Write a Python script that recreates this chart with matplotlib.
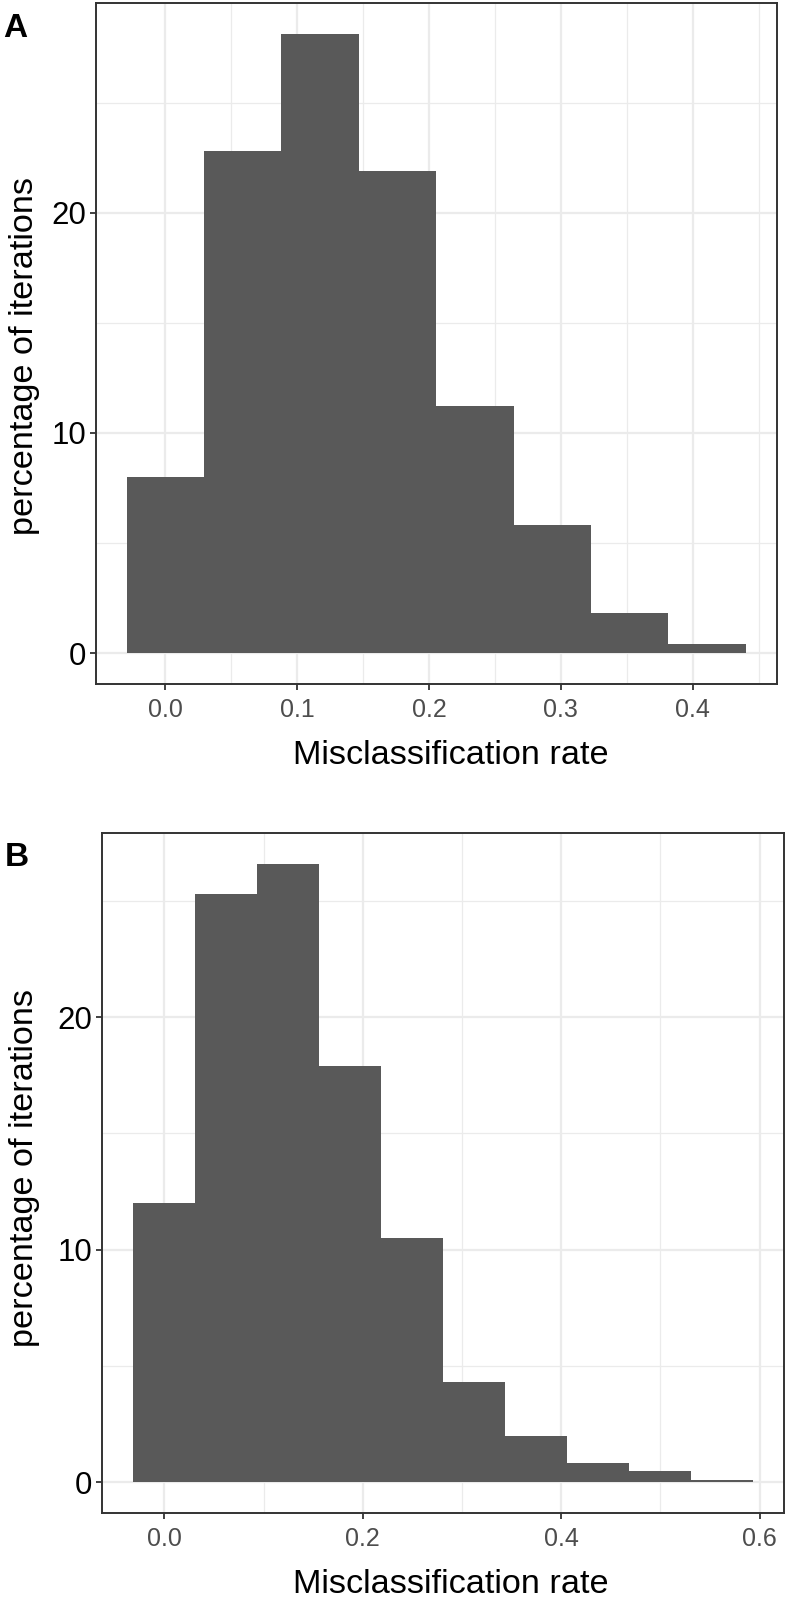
import numpy as np
import matplotlib
matplotlib.use("Agg")
import matplotlib.pyplot as plt

# --------------------------------------------------------------
# Data
# --------------------------------------------------------------
edges_a = [-0.02935, 0.02935, 0.08805, 0.14675, 0.20545, 0.26415, 0.32285, 0.38155, 0.44025]
pct_a = [8.0, 22.8, 28.1, 21.9, 11.2, 5.8, 1.8, 0.39]
xticks_a = [0.0, 0.1, 0.2, 0.3, 0.4]
xminor_a = [0.05, 0.15, 0.25, 0.35, 0.45]

edges_b = [-0.03125, 0.03125, 0.09375, 0.15625, 0.21875, 0.28125,
           0.34375, 0.40625, 0.46875, 0.53125, 0.59375]
pct_b = [12.0, 25.3, 26.6, 17.9, 10.5, 4.3, 2.0, 0.82, 0.49, 0.09]
xticks_b = [0.0, 0.2, 0.4, 0.6]
xminor_b = [0.1, 0.3, 0.5]

yticks = [0, 10, 20]
yminor = [5, 15, 25]

W, H = 788, 1599
fig = plt.figure(figsize=(W / 100, H / 100), dpi=100)

SANS = ["Liberation Sans", "DejaVu Sans"]


def px_axes(left, top, right, bottom):
    return fig.add_axes([left / W, 1 - bottom / H, (right - left) / W, (bottom - top) / H])


def draw_panel(ax, edges, pct, xticks, xminor):
    edges = np.asarray(edges)
    ax.bar(edges[:-1], pct, width=np.diff(edges), align="edge",
           color="#595959", edgecolor="none", zorder=2)
    lo, hi = edges[0], edges[-1]
    rng = hi - lo
    ax.set_xlim(lo - 0.05 * rng, hi + 0.05 * rng)
    top = max(pct)
    ax.set_ylim(-0.05 * top, 1.05 * top)

    ax.set_xticks(xticks)
    ax.set_xticklabels([f"{t:.1f}" for t in xticks], family=SANS,
                       fontsize=18, color="#4D4D4D")
    ax.set_xticks(xminor, minor=True)
    ax.set_yticks(yticks)
    ax.set_yticklabels([str(t) for t in yticks], family=SANS,
                       fontsize=22.5, color="black")
    ax.set_yticks(yminor, minor=True)

    ax.set_axisbelow(True)
    ax.grid(which="major", color="#EBEBEB", linewidth=1.6)
    ax.grid(which="minor", color="#EBEBEB", linewidth=0.9)
    ax.tick_params(which="minor", length=0)
    ax.tick_params(axis="x", which="major", length=4.5, width=1.3,
                   color="#333333", pad=5.5)
    ax.tick_params(axis="y", which="major", length=4.5, width=1.3,
                   color="#333333", pad=2.5)
    for sp in ax.spines.values():
        sp.set_color("#333333")
        sp.set_linewidth(1.4)


def fig_text(x, y, s, **kw):
    fig.text(x / W, 1 - y / H, s, **kw)


# --------------------------------------------------------------
# Panel A
# --------------------------------------------------------------
ax_a = px_axes(95.7, 3.3, 776.7, 684.0)
draw_panel(ax_a, edges_a, pct_a, xticks_a, xminor_a)

# --------------------------------------------------------------
# Panel B
# --------------------------------------------------------------
ax_b = px_axes(102.3, 832.7, 784.3, 1513.3)
draw_panel(ax_b, edges_b, pct_b, xticks_b, xminor_b)

# axis titles and panel tags
for base_y, centre_y, tag, tag_x, tag_y in [
    (764.5, 356.0, "A", 3, 37),
    (1593.0, 1168.0, "B", 5, 866),
]:
    fig_text(451, base_y, "Misclassification rate", family=SANS,
             fontsize=24.7, ha="center", va="baseline")
    fig_text(33, centre_y, "percentage of iterations", family=SANS,
             fontsize=24.7, rotation=90, rotation_mode="anchor",
             ha="center", va="baseline")
    fig_text(tag_x, tag_y, tag, family=SANS, fontsize=24,
             fontweight="bold", ha="left", va="baseline")

fig.savefig("out.png", dpi=100)
